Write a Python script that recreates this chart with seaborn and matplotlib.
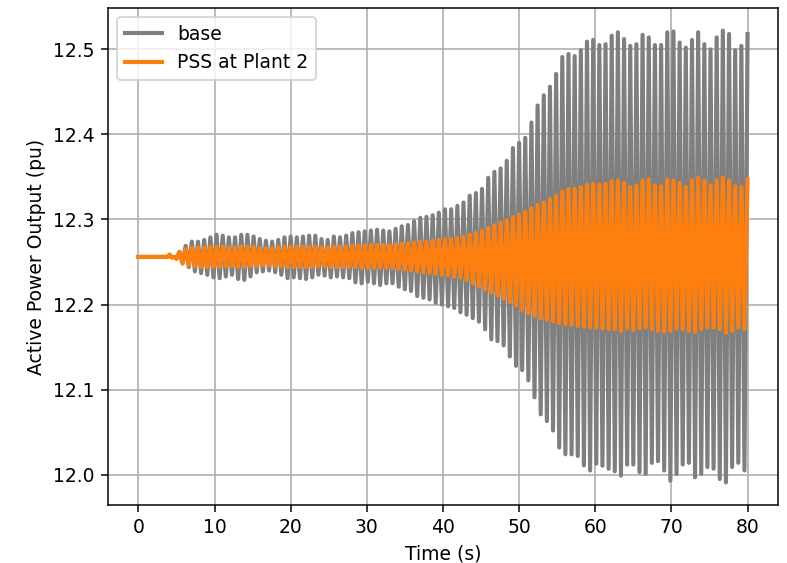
import numpy as np
import pandas as pd
import matplotlib
matplotlib.use("Agg")
import matplotlib.pyplot as plt
import seaborn as sns

# Steady-state operating point (pu) and the flat pre-disturbance stretch
p0 = 12.256
pre_time = [0.0, 3.8, 4.1, 4.4, 4.7]
pre_base = [0.0, 0.0, 0.001, 0.0, 0.0]
pre_pss = [0.0, 0.0, 0.003, -0.001, 0.0]

# Electromechanical swing: one trough then one crest per cycle
osc_start = 4.985   # time of first trough (s)
osc_period = 0.811  # swing period (s)

# Base case: crest heights and trough depths per cycle (pu above/below p0)
base_crest = [
    0.006, 0.013, 0.018, 0.018, 0.020, 0.023, 0.026, 0.025, 0.023, 0.023,
    0.026, 0.026, 0.024, 0.021, 0.019, 0.018, 0.020, 0.023, 0.024, 0.023,
    0.024, 0.025, 0.025, 0.021, 0.020, 0.024, 0.023, 0.025, 0.028, 0.029,
    0.030, 0.031, 0.032, 0.031, 0.030, 0.033, 0.036, 0.0375, 0.042, 0.046,
    0.047, 0.049, 0.052, 0.056, 0.056, 0.060, 0.064, 0.072, 0.075, 0.080,
    0.093, 0.100, 0.104, 0.113, 0.128, 0.134, 0.140, 0.158, 0.178, 0.190,
    0.200, 0.215, 0.235, 0.2385, 0.236, 0.243, 0.253, 0.255, 0.249, 0.250,
    0.260, 0.264, 0.256, 0.248, 0.250, 0.261, 0.258, 0.249, 0.249, 0.264,
    0.265, 0.252, 0.246, 0.255, 0.264, 0.250, 0.244, 0.258, 0.266, 0.262,
    0.243, 0.248, 0.262,
]
base_trough = [
    0.002, 0.007, 0.012, 0.017, 0.019, 0.021, 0.024, 0.025, 0.023, 0.021,
    0.026, 0.027, 0.023, 0.018, 0.017, 0.016, 0.018, 0.021, 0.025, 0.024,
    0.025, 0.026, 0.024, 0.021, 0.022, 0.024, 0.023, 0.024, 0.025, 0.030,
    0.031, 0.029, 0.031, 0.033, 0.031, 0.031, 0.035, 0.038, 0.040, 0.046,
    0.048, 0.050, 0.054, 0.056, 0.058, 0.060, 0.065, 0.068, 0.072, 0.076,
    0.085, 0.097, 0.099, 0.104, 0.117, 0.128, 0.133, 0.145, 0.165, 0.185,
    0.193, 0.204, 0.224, 0.232, 0.232, 0.234, 0.245, 0.251, 0.243, 0.2455,
    0.249, 0.252, 0.257, 0.244, 0.244, 0.253, 0.255, 0.242, 0.240, 0.251,
    0.263, 0.255, 0.244, 0.242, 0.259, 0.255, 0.247, 0.249, 0.261, 0.265,
    0.247, 0.242, 0.251,
]

# With a PSS at Plant 2
pss_crest = [
    0.006, 0.009, 0.011, 0.011, 0.011, 0.012, 0.012, 0.012, 0.011, 0.011,
    0.012, 0.012, 0.012, 0.011, 0.010, 0.010, 0.011, 0.012, 0.012, 0.012,
    0.012, 0.012, 0.012, 0.011, 0.011, 0.012, 0.012, 0.012, 0.013, 0.013,
    0.014, 0.014, 0.014, 0.014, 0.014, 0.015, 0.016, 0.016, 0.017, 0.018,
    0.018, 0.019, 0.020, 0.021, 0.021, 0.022, 0.024, 0.026, 0.028, 0.031,
    0.034, 0.037, 0.040, 0.043, 0.047, 0.050, 0.053, 0.057, 0.061, 0.064,
    0.068, 0.072, 0.077, 0.080, 0.080, 0.082, 0.085, 0.086, 0.085, 0.086,
    0.089, 0.090, 0.087, 0.082, 0.084, 0.090, 0.091, 0.084, 0.083, 0.091,
    0.090, 0.087, 0.082, 0.090, 0.093, 0.090, 0.084, 0.090, 0.093, 0.090,
    0.083, 0.082, 0.091,
]
pss_trough = [
    0.002, 0.008, 0.010, 0.011, 0.012, 0.012, 0.012, 0.012, 0.011, 0.011,
    0.012, 0.012, 0.011, 0.011, 0.010, 0.010, 0.011, 0.011, 0.012, 0.012,
    0.012, 0.012, 0.012, 0.011, 0.011, 0.012, 0.012, 0.012, 0.012, 0.012,
    0.013, 0.013, 0.013, 0.013, 0.013, 0.013, 0.014, 0.015, 0.016, 0.017,
    0.018, 0.019, 0.020, 0.021, 0.022, 0.023, 0.024, 0.027, 0.031, 0.035,
    0.038, 0.042, 0.045, 0.049, 0.053, 0.057, 0.062, 0.066, 0.069, 0.072,
    0.074, 0.076, 0.078, 0.079, 0.080, 0.081, 0.082, 0.083, 0.083, 0.084,
    0.085, 0.085, 0.087, 0.084, 0.086, 0.084, 0.083, 0.085, 0.087, 0.088,
    0.087, 0.084, 0.085, 0.087, 0.088, 0.085, 0.083, 0.083, 0.085, 0.089,
    0.087, 0.083, 0.085,
]

series_names = ["base", "PSS at Plant 2"]
series_colors = ["#7f7f7f", "#ff7f0e"]


def build_trace(pre_dev, crest, trough):
    n = len(crest)
    t_trough = osc_start + osc_period * np.arange(n)
    t_crest = t_trough + osc_period / 2
    t = np.empty(2 * n)
    v = np.empty(2 * n)
    t[0::2], t[1::2] = t_trough, t_crest
    v[0::2] = p0 - np.asarray(trough)
    v[1::2] = p0 + np.asarray(crest)
    t = np.concatenate([pre_time, t])
    v = np.concatenate([p0 + np.asarray(pre_dev), v])
    return t, v


frames = []
for name, pre, cr, tr in [
    (series_names[0], pre_base, base_crest, base_trough),
    (series_names[1], pre_pss, pss_crest, pss_trough),
]:
    t, v = build_trace(pre, cr, tr)
    frames.append(pd.DataFrame({"Time (s)": t, "power": v, "series": name}))
df = pd.concat(frames, ignore_index=True)

fig = plt.figure(figsize=(787 / 135, 563 / 135), dpi=135)
ax = fig.add_axes([108 / 787, 1 - 505 / 563, 670 / 787, 497 / 563])

sns.lineplot(
    data=df, x="Time (s)", y="power", hue="series",
    hue_order=series_names, palette=series_colors,
    estimator=None, sort=False, linewidth=2.2, ax=ax,
)
ax.grid(True, color="#b0b0b0", linewidth=0.9)
ax.set_axisbelow(True)
ax.set_xticks(np.arange(0, 81, 10))
ax.set_xlabel("Time (s)")
ax.set_ylabel("Active Power Output (pu)")
sns.move_legend(ax, "upper left", title=None)
for line in ax.get_legend().get_lines():
    line.set_linewidth(2.2)

fig.savefig("out.png", dpi=135)
